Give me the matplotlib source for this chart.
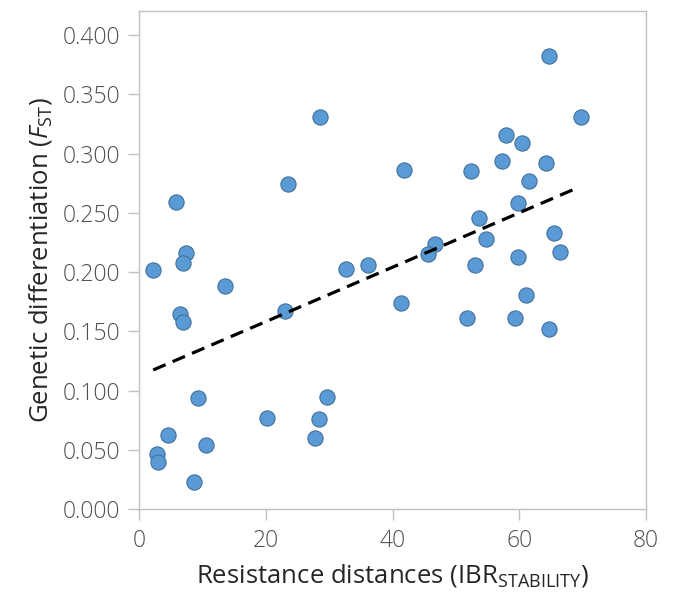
import numpy as np
import matplotlib
matplotlib.use("Agg")
import matplotlib.pyplot as plt

plt.rcParams['font.family'] = ['Open Sans', 'DejaVu Sans']
plt.rcParams['mathtext.fontset'] = 'custom'
plt.rcParams['mathtext.rm'] = 'Open Sans'
plt.rcParams['mathtext.it'] = 'Open Sans:italic'

# Resistance distances (IBR_STABILITY)
resistance = [2.2, 2.8, 3.0, 4.6, 5.8, 6.5, 6.9, 7.3, 6.9, 8.6, 9.2, 10.5, 13.5,
              20.2, 23.0, 23.5, 28.5, 27.7, 28.4, 29.6, 32.7, 36.1, 41.8, 41.3,
              46.7, 45.6, 52.3, 53.0, 53.6, 54.7, 51.8, 57.3, 57.9, 60.4, 59.8,
              59.8, 61.1, 59.3, 61.5, 64.2, 64.7, 65.4, 66.5, 64.7, 69.7]
# Genetic differentiation (FST)
fst = [0.202, 0.047, 0.040, 0.063, 0.259, 0.165, 0.158, 0.216, 0.208, 0.023,
       0.094, 0.054, 0.188, 0.077, 0.167, 0.274, 0.331, 0.060, 0.076, 0.095,
       0.203, 0.206, 0.286, 0.174, 0.224, 0.215, 0.285, 0.206, 0.246, 0.228,
       0.161, 0.294, 0.316, 0.309, 0.258, 0.213, 0.181, 0.161, 0.277, 0.292,
       0.382, 0.233, 0.217, 0.152, 0.331]

x_ticks = [0, 20, 40, 60, 80]
y_ticks = [0.0, 0.05, 0.10, 0.15, 0.20, 0.25, 0.30, 0.35, 0.40]

fig = plt.figure(figsize=(6.75, 5.93), dpi=100)
ax = fig.add_axes([0.2064, 0.1411, 0.957 - 0.2064, 0.981 - 0.1411])

x = np.array(resistance)
y = np.array(fst)
ax.scatter(x, y, s=120, facecolor='#5B9BD5', edgecolor='#41719C',
           linewidth=0.8, zorder=3)

# linear trendline
slope, intercept = np.polyfit(x, y, 1)
xl = np.array([x.min(), x.max() - 1.0])
ax.plot(xl, slope * xl + intercept, color='black', linewidth=2.3,
        dashes=(4.2, 2.4), zorder=4)

ax.set_xlim(0, 80)
ax.set_ylim(0, 0.42)
ax.set_xticks(x_ticks)
ax.set_yticks(y_ticks)
ax.set_yticklabels([f"{v:.3f}" for v in y_ticks])

for s in ax.spines.values():
    s.set_color('#C0C0C0')
    s.set_linewidth(1.0)
ax.tick_params(axis='both', direction='out', length=8, width=1.0,
               color='#C0C0C0', labelcolor='#505050', labelsize=16.5, pad=6)
for lab in ax.get_xticklabels() + ax.get_yticklabels():
    lab.set_fontweight('light')

ax.set_xlabel(r"Resistance distances (IBR$_{\mathrm{STABILITY}}$)",
              fontsize=18.5, color='#262626', labelpad=7)
ax.set_ylabel(r"Genetic differentiation ($\mathit{F}_{\mathrm{ST}}$)",
              fontsize=18.5, color='#262626', labelpad=6)

fig.savefig("out.png", dpi=100)
